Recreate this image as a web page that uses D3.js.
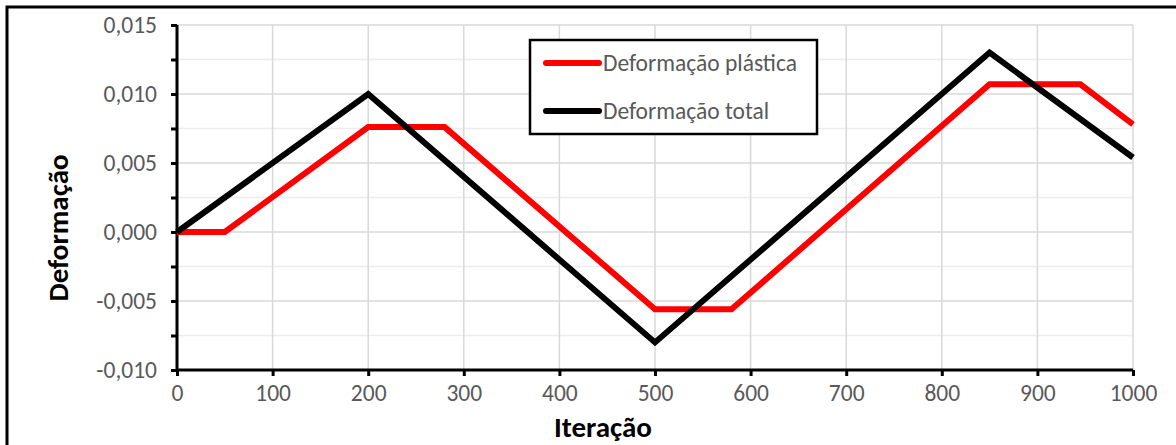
<!DOCTYPE html>
<html>
<head>
<meta charset="utf-8">
<script src="https://cdn.jsdelivr.net/npm/d3@7"></script>
<style>
  body { margin: 0; background: #fff; }
  text { font-family: Carlito, "Open Sans", "Liberation Sans", sans-serif; }
</style>
</head>
<body>
<script>
var width = 1176, height = 445

// series data (iteration, deformation)
var plastica = [[0, 0], [50, 0], [200, 0.0076], [280, 0.0076], [500, -0.0056], [580, -0.0056], [850, 0.0107], [945, 0.0107], [1000, 0.0078]]
var total = [[0, 0], [200, 0.010], [500, -0.008], [850, 0.013], [1000, 0.0054]]
var seriesNames = ["Deformação plástica", "Deformação total"]
var seriesColors = ["#ff0000", "#000000"]
var xTicks = [0, 100, 200, 300, 400, 500, 600, 700, 800, 900, 1000]
var yTicks = [-0.010, -0.005, 0, 0.005, 0.010, 0.015]
var yMinor = [-0.0075, -0.0025, 0.0025, 0.0075, 0.0125]

var x = d3.scaleLinear().domain([0, 1000]).range([177, 1133])
var y = d3.scaleLinear().domain([-0.010, 0.015]).range([370, 25])

var svg = d3.select("body").append("svg")
    .attr("width", width)
    .attr("height", height)

// outer border
svg.append("rect")
    .attr("x", 7).attr("y", 7)
    .attr("width", width + 10).attr("height", height + 10)
    .attr("fill", "none")
    .attr("stroke", "black")
    .attr("stroke-width", 3)

// gridlines
svg.selectAll(".minor").data(yMinor).enter().append("line")
    .attr("x1", x(0)).attr("x2", x(1000))
    .attr("y1", function(d) { return y(d) }).attr("y2", function(d) { return y(d) })
    .attr("stroke", "#ececec").attr("stroke-width", 1.5)

svg.selectAll(".hgrid").data(yTicks).enter().append("line")
    .attr("x1", x(0)).attr("x2", x(1000))
    .attr("y1", function(d) { return y(d) }).attr("y2", function(d) { return y(d) })
    .attr("stroke", "#d9d9d9").attr("stroke-width", 1.5)

svg.selectAll(".vgrid").data(xTicks.slice(1)).enter().append("line")
    .attr("y1", y(-0.010)).attr("y2", y(0.015))
    .attr("x1", function(d) { return x(d) }).attr("x2", function(d) { return x(d) })
    .attr("stroke", "#d9d9d9").attr("stroke-width", 1.5)

// axes
var xAxis = d3.axisBottom(x).tickValues(xTicks).tickSize(6).tickPadding(8)
    .tickFormat(d3.format("d"))
var fmt = function(d) { return d3.format(".3f")(d).replace(".", ",").replace("−", "-") }
var yAxis = d3.axisLeft(y).tickValues(yTicks.concat(yMinor)).tickSize(6).tickPadding(14)
    .tickFormat(function(d) { return yMinor.indexOf(d) >= 0 ? "" : fmt(d) })

var gx = svg.append("g").attr("transform", "translate(0," + y(-0.010) + ")").call(xAxis)
var gy = svg.append("g").attr("transform", "translate(" + x(0) + ",0)").call(yAxis)

;[gx, gy].forEach(function(g) {
  g.select(".domain").attr("stroke", "black").attr("stroke-width", 3)
  g.selectAll(".tick line").attr("stroke", "black").attr("stroke-width", 3)
  g.selectAll(".tick text").attr("fill", "#595959").style("font-size", "23.5px")
})
gx.select(".domain").attr("d", "M" + x(0) + ",0H" + x(1000))
gy.select(".domain").attr("d", "M0," + y(0.015) + "V" + y(-0.010))

// lines
var line = d3.line()
    .x(function(d) { return x(d[0]) })
    .y(function(d) { return y(d[1]) })

;[plastica, total].forEach(function(s, i) {
  svg.append("path")
      .datum(s)
      .attr("d", line)
      .attr("fill", "none")
      .attr("stroke", seriesColors[i])
      .attr("stroke-width", 6)
      .attr("stroke-linejoin", "miter")
})

// axis titles
svg.append("text")
    .text("Iteração")
    .attr("x", 603).attr("y", 437)
    .attr("text-anchor", "middle")
    .style("font-size", "29px").style("font-weight", "bold")

svg.append("text")
    .text("Deformação")
    .attr("transform", "translate(68,228) rotate(-90)")
    .attr("text-anchor", "middle")
    .style("font-size", "29px").style("font-weight", "bold")

// legend
var legend = svg.append("g")
legend.append("rect")
    .attr("x", 530).attr("y", 40)
    .attr("width", 287).attr("height", 94)
    .attr("fill", "white")
    .attr("stroke", "black").attr("stroke-width", 2.5)

seriesNames.forEach(function(name, i) {
  var ly = 63 + i * 48
  legend.append("line")
      .attr("x1", 546).attr("x2", 599)
      .attr("y1", ly).attr("y2", ly)
      .attr("stroke", seriesColors[i]).attr("stroke-width", 6)
      .attr("stroke-linecap", "round")
  legend.append("text")
      .text(name)
      .attr("x", 603).attr("y", ly + 8)
      .attr("fill", "#595959")
      .style("font-size", "23.5px")
})
</script>
</body>
</html>
